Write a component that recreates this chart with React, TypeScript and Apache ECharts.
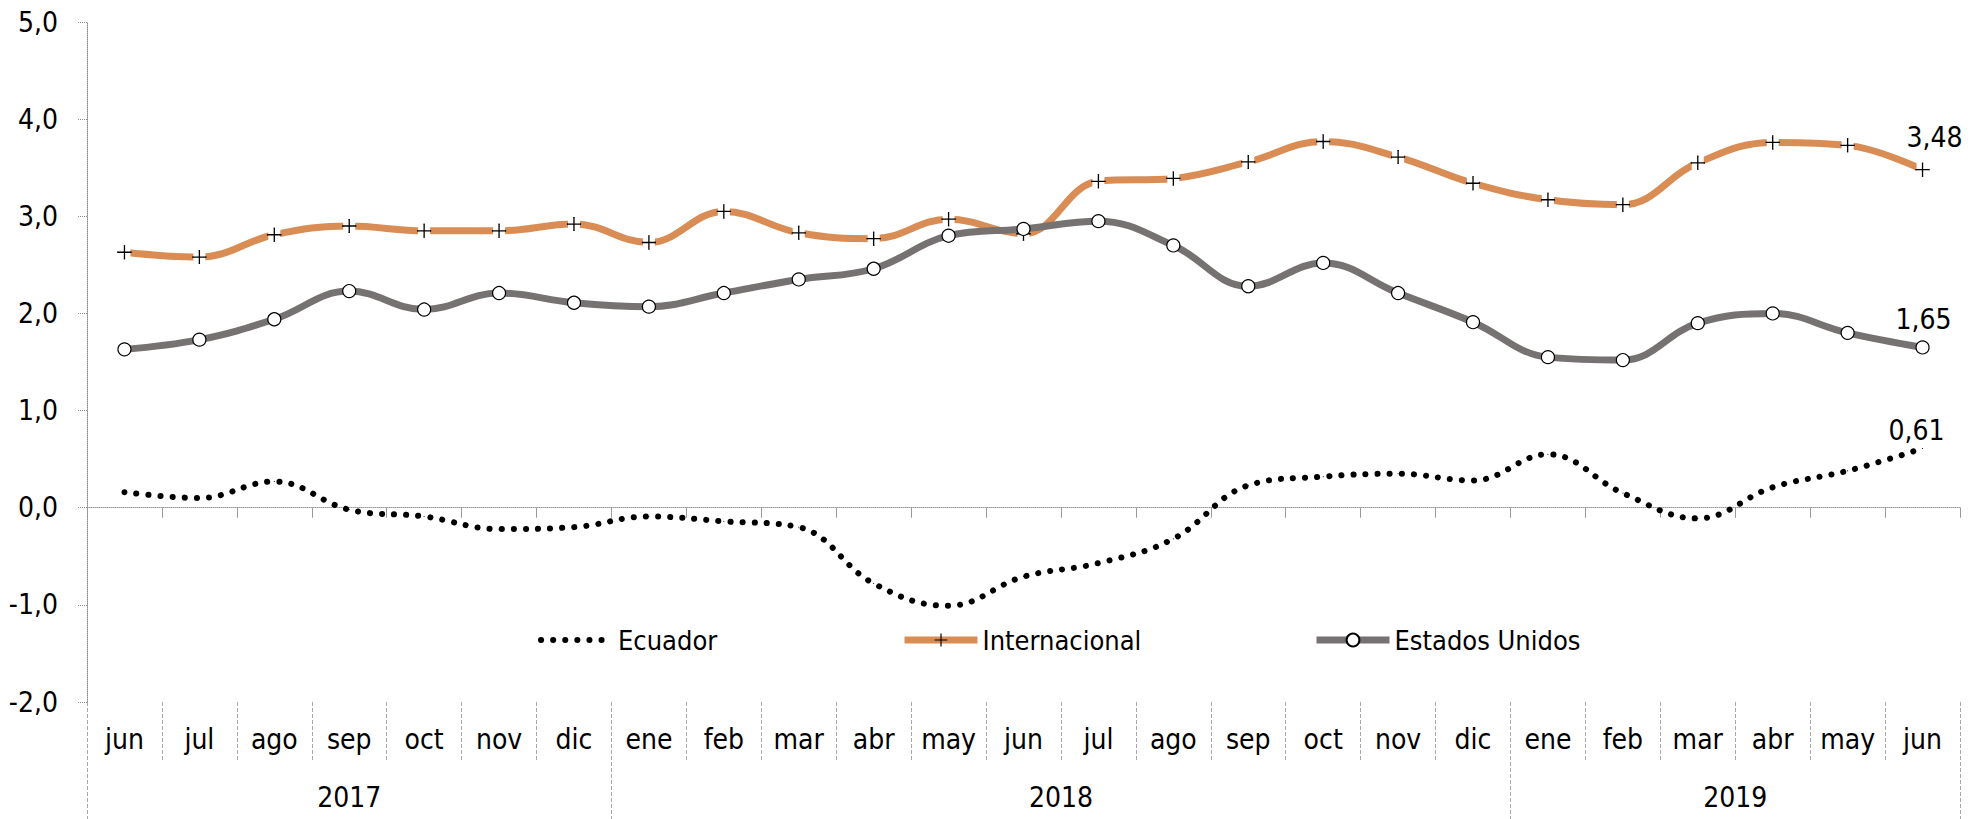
import React, { useEffect, useRef } from "react";
import * as echarts from "echarts";

// ---- data ----
const monthLabels = [
  "jun", "jul", "ago", "sep", "oct", "nov", "dic",
  "ene", "feb", "mar", "abr", "may", "jun", "jul", "ago", "sep", "oct", "nov", "dic",
  "ene", "feb", "mar", "abr", "may", "jun",
];
const years = ["2017", "2018", "2019"];
const monthsPerYear = [7, 12, 6];

const ecuador = [
  0.16, 0.1, 0.27, -0.02, -0.09, -0.22, -0.2,
  -0.09, -0.14, -0.2, -0.78, -1.01, -0.71, -0.57, -0.32, 0.23, 0.32, 0.35, 0.28,
  0.55, 0.15, -0.11, 0.21, 0.38, 0.61,
];
const internacional = [
  2.63, 2.58, 2.81, 2.9, 2.85, 2.85, 2.92,
  2.73, 3.05, 2.83, 2.77, 2.97, 2.82, 3.36, 3.39, 3.56, 3.77, 3.61, 3.34,
  3.17, 3.12, 3.55, 3.76, 3.73, 3.48,
];
const estadosUnidos = [
  1.63, 1.73, 1.94, 2.23, 2.04, 2.21, 2.11,
  2.07, 2.21, 2.35, 2.46, 2.8, 2.87, 2.95, 2.7, 2.28, 2.52, 2.21, 1.91,
  1.55, 1.52, 1.9, 2.0, 1.8, 1.65,
];

const FONT = "'Liberation Sans Narrow', 'Arial Narrow', 'DejaVu Sans Condensed', sans-serif";
const ORANGE = "#D98D55";
const GRAY = "#767272";
const PLUS = "path://M6.8,0 L8.2,0 L8.2,6.8 L15,6.8 L15,8.2 L8.2,8.2 L8.2,15 L6.8,15 L6.8,8.2 L0,8.2 L0,6.8 L6.8,6.8 Z";
const DOTS = [0.1, 12];

const fmt2 = (v: number) => v.toFixed(2).replace(".", ",");
const fmt1 = (v: number) => v.toFixed(1).replace(".", ",");

function withEndLabel(values: number[], label: any) {
  return values.map((v, i) =>
    i === values.length - 1
      ? { value: v, label: { show: true, formatter: (p: any) => fmt2(p.value), ...label } }
      : v
  );
}

export default function App() {
  const ref = useRef<HTMLDivElement>(null);

  useEffect(() => {
    document.body.style.margin = "0";
    const chart = echarts.init(ref.current!, undefined, { renderer: "svg" });

    const boundaries: number[] = [0];
    monthsPerYear.forEach((n) => boundaries.push(boundaries[boundaries.length - 1] + n));
    const centers = monthsPerYear.map((n, i) => boundaries[i] + n / 2);
    const total = boundaries[boundaries.length - 1];

    const labelText = { fontFamily: FONT, fontSize: 28, color: "#000" };

    const legendCommon = {
      top: 625,
      padding: 0,
      itemHeight: 16,
      textStyle: { fontFamily: FONT, fontSize: 27, color: "#000", lineHeight: 30 },
      selectedMode: false,
    };

    chart.setOption({
      animation: false,
      backgroundColor: "#fff",
      grid: { left: 87, right: 15, top: 22, bottom: 117, containLabel: false },
      legend: [
        {
          ...legendCommon,
          left: 538,
          itemWidth: 72,
          data: ["Ecuador"],
          itemStyle: { opacity: 0 },
          lineStyle: { width: 6, type: DOTS, cap: "round", color: "#000" },
        },
        {
          ...legendCommon,
          left: 901,
          itemWidth: 73,
          data: ["Internacional"],
          lineStyle: { width: 7, color: ORANGE },
        },
        {
          ...legendCommon,
          left: 1313,
          itemWidth: 73,
          data: ["Estados Unidos"],
          lineStyle: { width: 7, color: GRAY },
        },
      ],
      xAxis: [
        {
          type: "category",
          data: monthLabels,
          boundaryGap: true,
          position: "bottom",
          axisLine: { show: true, onZero: true, lineStyle: { color: "#9a9a9a", width: 1, type: "dotted" } },
          axisTick: { show: true, interval: 0, length: 10, lineStyle: { color: "#9a9a9a", width: 1 } },
          axisLabel: { show: false },
          splitLine: { show: false },
        },
        {
          type: "category",
          data: monthLabels,
          boundaryGap: true,
          position: "bottom",
          axisLine: { show: false, onZero: false },
          axisTick: { show: true, interval: 0, length: 58, lineStyle: { color: "#a8a8a8", width: 1, type: "dashed" } },
          axisLabel: { show: true, interval: 0, margin: 23, ...labelText, fontSize: 28 },
          splitLine: { show: false },
        },
        {
          type: "value",
          min: 0,
          max: total,
          position: "bottom",
          axisLine: { show: false, onZero: false },
          axisTick: { show: true, customValues: boundaries, length: 117, lineStyle: { color: "#a8a8a8", width: 1, type: "dashed" } },
          axisLabel: {
            show: true,
            customValues: centers,
            margin: 81,
            ...labelText,
            fontSize: 28,
            formatter: (v: number) => {
              const idx = centers.findIndex((c) => Math.abs(c - v) < 1e-6);
              return idx >= 0 ? years[idx] : "";
            },
          },
          splitLine: { show: false },
        },
      ],
      yAxis: {
        type: "value",
        min: -2,
        max: 5,
        interval: 1,
        axisLine: { show: true, onZero: false, lineStyle: { color: "#8a8a8a", width: 1, type: "dotted" } },
        axisTick: { show: true, length: 10, lineStyle: { color: "#8a8a8a", width: 1, type: "dotted" } },
        axisLabel: { margin: 29, ...labelText, fontSize: 28, formatter: (v: number) => fmt1(v) },
        splitLine: { show: false },
      },
      series: [
        {
          name: "Ecuador",
          type: "line",
          z: 2,
          smooth: 0.4,
          data: withEndLabel(ecuador, { position: "top", offset: [-6, 2], ...labelText }),
          symbol: "circle",
          symbolSize: 1,
          itemStyle: { color: "#000" },
          lineStyle: { color: "#000", width: 6, type: DOTS, cap: "round" },
        },
        {
          name: "Internacional",
          type: "line",
          z: 3,
          smooth: 0.4,
          data: internacional,
          symbol: PLUS,
          symbolSize: 14,
          itemStyle: { color: "#000" },
          lineStyle: { color: ORANGE, width: 7 },
        },
        {
          name: "_intGap",
          type: "line",
          z: 4,
          silent: true,
          data: internacional,
          symbol: "rect",
          symbolSize: [12, 13],
          itemStyle: { color: "#fff" },
          lineStyle: { width: 0, opacity: 0 },
        },
        {
          name: "_intPlus",
          type: "line",
          z: 5,
          silent: true,
          data: withEndLabel(internacional, { position: "top", offset: [12, -6], ...labelText }),
          symbol: PLUS,
          symbolSize: 14,
          itemStyle: { color: "#000" },
          lineStyle: { width: 0, opacity: 0 },
        },
        {
          name: "Estados Unidos",
          type: "line",
          z: 6,
          smooth: 0.4,
          data: withEndLabel(estadosUnidos, { position: "top", offset: [1, -2], ...labelText }),
          symbol: "circle",
          symbolSize: 13,
          itemStyle: { color: "#fff", borderColor: "#000", borderWidth: 1.2 },
          lineStyle: { color: GRAY, width: 7 },
        },
      ],
    });

    return () => chart.dispose();
  }, []);

  return <div ref={ref} style={{ width: 1975, height: 819 }} />;
}
